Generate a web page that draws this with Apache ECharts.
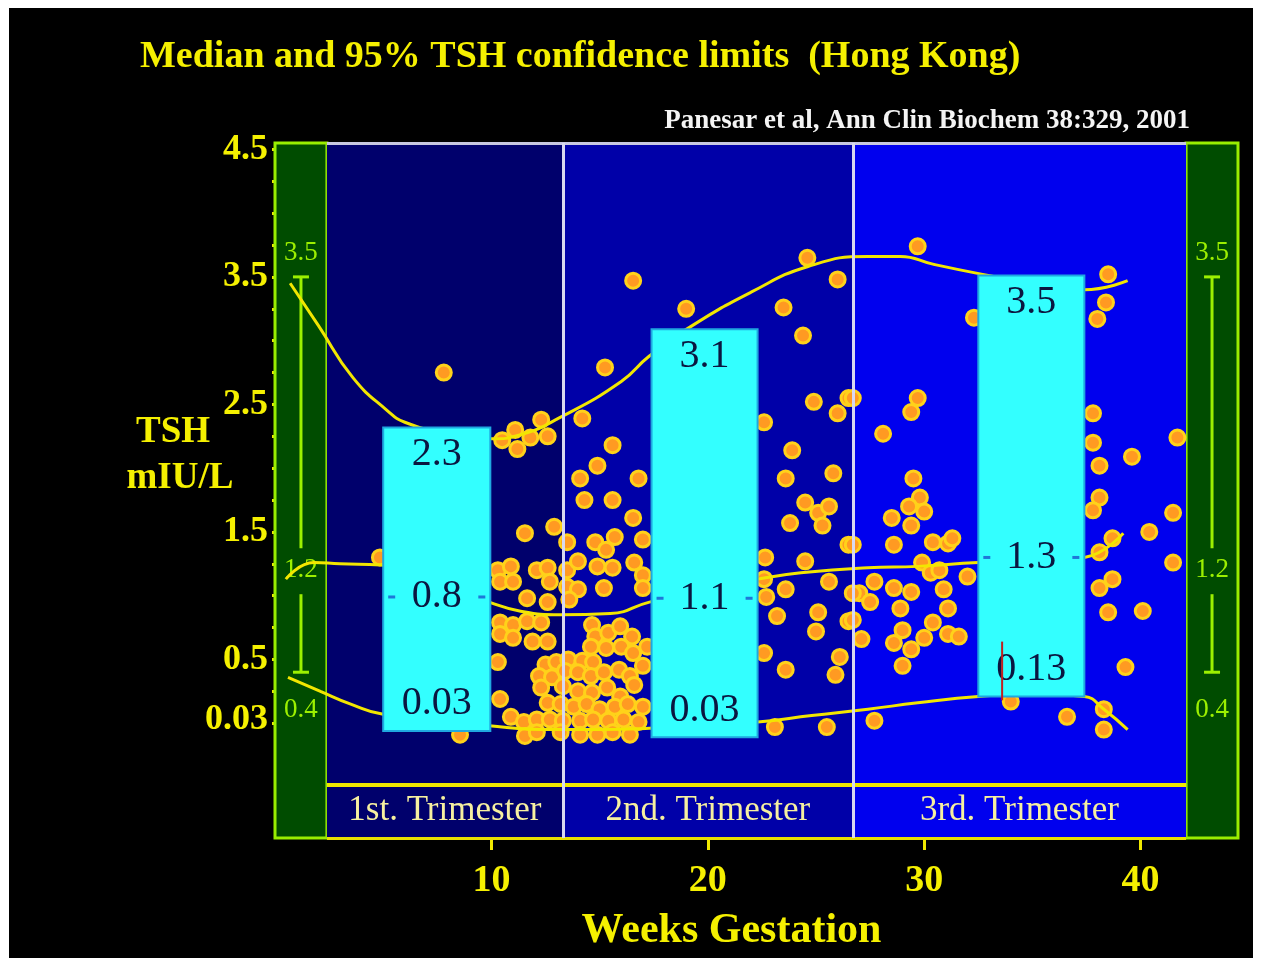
<!DOCTYPE html>
<html>
<head>
<meta charset="utf-8">
<script src="https://cdn.jsdelivr.net/npm/echarts@6/dist/echarts.min.js"></script>
<style>
html, body { margin: 0; background: #fff; }
#chart { position: absolute; left: 9px; top: 8px; width: 1244px; height: 950px; background: #000; }
</style>
</head>
<body>
<div id="chart"></div>
<script>
const trimesters = ['1st. Trimester', '2nd. Trimester', '3rd. Trimester']
const trimesterBounds = [2.4, 13.3, 26.7, 42.1]
const xTicks = [10, 20, 30, 40]
const yTicks = [0.03, 0.5, 1.5, 2.5, 3.5, 4.5]

// fitted curves (weeks, TSH)
const upper = [[0.7, 3.45], [2, 3.12], [3.6, 2.71], [5.2, 2.45], [6, 2.36], [8, 2.27], [10, 2.23], [11.3, 2.26], [13.2, 2.4],
  [16, 2.68], [17.3, 2.88], [19.3, 3.12], [22, 3.38], [24.6, 3.58], [27.4, 3.66], [28.9, 3.66], [30.4, 3.6], [32.7, 3.52],
  [35, 3.45], [37.4, 3.4], [39.4, 3.47]]
const median = [[0.5, 1.13], [1.8, 1.26], [3, 1.25], [4.9, 1.24], [9.9, 0.95], [11.3, 0.88], [13.2, 0.85], [15.5, 0.86],
  [17.3, 0.95], [20, 1.05], [22.3, 1.13], [24.3, 1.18], [27.4, 1.22], [29.7, 1.23], [32.5, 1.26], [35, 1.27], [37.4, 1.3], [39.2, 1.49]]
const lower = [[0.6, 0.36], [2.1, 0.25], [3.5, 0.15], [5, 0.07], [9.9, -0.02], [12.9, -0.05], [15, -0.05], [17.3, -0.04],
  [22.3, 0.01], [24.8, 0.06], [27.4, 0.11], [29.7, 0.16], [32.5, 0.21], [35, 0.23], [37.4, 0.21], [38.3, 0.11], [39.4, -0.05]]

// individual results
const dots = [
  [7.8, 2.75], [10.5, 2.22], [11.1, 2.3], [11.2, 2.15], [11.8, 2.24], [12.3, 2.38], [12.6, 2.25], [4.85, 1.3], [8.55, -0.09],
  [11.55, 1.49], [12.9, 1.54], [13.5, 1.42], [14.8, 1.42], [15.3, 1.36], [15.7, 1.46], [17.0, 1.44],
  [10.3, 1.2], [10.9, 1.23], [10.4, 1.11], [11.0, 1.11], [12.1, 1.2], [12.6, 1.22], [12.7, 1.11], [13.5, 1.2], [14.0, 1.27],
  [13.5, 1.07], [14.0, 1.05], [13.6, 0.97], [14.9, 1.23], [15.6, 1.22], [15.2, 1.06], [16.6, 1.26], [17.0, 1.16], [17.0, 1.06],
  [11.65, 0.98], [12.6, 0.95], [10.4, 0.79], [11.0, 0.77], [11.65, 0.8], [12.3, 0.79], [10.4, 0.7], [11.0, 0.67], [11.9, 0.64],
  [12.6, 0.64], [10.3, 0.48],
  [14.65, 0.77], [14.8, 0.68], [15.4, 0.71], [14.6, 0.6], [15.3, 0.59], [15.95, 0.76], [16.5, 0.68], [16.0, 0.6], [16.55, 0.55], [17.2, 0.6],
  [12.5, 0.46], [13.0, 0.48], [13.55, 0.5], [14.2, 0.49], [14.7, 0.48],
  [12.2, 0.37], [12.8, 0.36], [13.4, 0.41], [14.0, 0.4], [14.6, 0.37], [15.2, 0.4], [15.9, 0.42], [16.4, 0.37], [17.0, 0.45],
  [12.3, 0.28], [13.3, 0.29], [14.0, 0.25], [14.65, 0.24], [15.35, 0.28], [15.95, 0.21], [16.6, 0.3],
  [10.4, 0.19], [12.6, 0.16], [13.2, 0.15], [13.8, 0.13], [14.4, 0.15], [15.0, 0.11], [15.7, 0.13], [16.3, 0.15], [17.0, 0.13],
  [10.9, 0.05], [11.5, 0.01], [12.1, 0.03], [12.7, 0.03], [13.3, 0.02], [14.1, 0.02], [14.7, 0.03], [15.4, 0.02], [16.1, 0.03], [16.8, 0.01],
  [11.55, -0.1], [12.1, -0.07], [13.2, -0.07], [14.1, -0.09], [14.9, -0.09], [15.6, -0.07], [16.4, -0.09],
  [16.55, 3.47], [24.6, 3.65], [26.0, 3.48], [19.0, 3.25], [23.5, 3.26], [24.4, 3.04], [15.25, 2.79], [26.5, 2.55], [24.9, 2.52],
  [26.0, 2.43], [22.6, 2.36], [15.6, 2.18], [14.9, 2.02], [14.2, 2.39], [23.9, 2.14], [23.6, 1.92], [25.8, 1.96], [16.8, 1.92],
  [14.1, 1.92], [15.6, 1.75], [14.3, 1.75], [16.55, 1.61], [24.5, 1.73], [25.1, 1.65], [25.6, 1.7], [23.8, 1.57], [25.3, 1.55],
  [26.5, 1.4], [22.65, 1.3], [24.5, 1.27], [22.6, 1.13], [23.6, 1.05], [25.6, 1.11], [27.0, 1.02], [22.7, 0.99], [23.2, 0.84],
  [25.1, 0.87], [25.0, 0.72], [26.5, 0.8], [22.6, 0.55], [23.6, 0.42], [26.1, 0.52], [25.9, 0.38], [23.1, -0.03], [25.5, -0.03],
  [29.7, 3.74], [32.3, 3.18], [26.7, 2.55], [29.7, 2.55], [29.4, 2.44], [28.1, 2.27], [29.5, 1.92], [29.8, 1.77], [29.3, 1.7],
  [30.0, 1.66], [28.5, 1.61], [29.4, 1.55], [26.7, 1.4], [28.6, 1.4], [30.4, 1.42], [31.1, 1.41], [31.3, 1.45], [29.9, 1.26],
  [30.3, 1.18], [30.7, 1.2], [32.0, 1.15], [27.7, 1.11], [26.7, 1.02], [28.6, 1.06], [29.4, 1.03], [27.5, 0.95], [28.9, 0.9],
  [30.9, 1.05], [31.1, 0.9], [26.7, 0.81], [30.4, 0.79], [27.1, 0.66], [28.6, 0.63], [29.0, 0.73], [30.0, 0.67], [31.1, 0.7],
  [31.6, 0.68], [29.4, 0.58], [29.0, 0.45], [27.7, 0.02], [34.0, 0.17], [36.6, 0.05],
  [38.5, 3.52], [38.4, 3.3], [38.0, 3.17], [37.8, 2.43], [37.8, 2.2], [38.1, 2.02], [39.6, 2.09], [41.7, 2.24], [38.1, 1.77],
  [37.8, 1.67], [41.5, 1.65], [40.4, 1.5], [38.7, 1.45], [38.1, 1.34], [41.5, 1.26], [38.7, 1.13], [38.1, 1.06], [38.5, 0.87],
  [40.1, 0.88], [39.3, 0.44], [38.3, 0.11], [38.3, -0.05]
]

// trimester reference boxes
const boxStart = [5.0, 17.4, 32.5]
const boxEnd = [9.95, 22.3, 37.4]
const boxLow = [-0.06, -0.11, 0.21]
const boxHigh = [2.32, 3.09, 3.51]
const boxMedian = [0.99, 0.98, 1.3]
const boxTopText = ['2.3', '3.1', '3.5']
const boxMidText = ['0.8', '1.1', '1.3']
const boxLowText = ['0.03', '0.03', '0.13']

// non-pregnant reference range (side panels)
const refX = [1.2, 43.3]
const refValues = [3.5, 1.2, 0.4]
const refText = ['3.5', '1.2', '0.4']

const redMark = [[33.6, 0.18], [33.6, 0.64]]

const serif = '"Liberation Serif", "Times New Roman", serif'
const yMin = -0.9, yMax = 4.55, stripTop = -0.48
const bandColors = ['#00006c', '#0000a8', '#0000ee']

const minorTicks = []
for (let v = 0; v <= 4.5; v += 0.25) minorTicks.push(v)

function renderBox(params, api) {
  const i = params.dataIndex
  const tl = api.coord([api.value(0), api.value(3)])
  const br = api.coord([api.value(1), api.value(2)])
  const my = api.coord([api.value(0), api.value(4)])[1]
  const cx = (tl[0] + br[0]) / 2
  const txt = (t, y) => ({
    type: 'text', x: cx, y: y,
    style: { text: t, fill: '#0b1640', font: '40px ' + serif, textAlign: 'center', textVerticalAlign: 'middle' }
  })
  const dash = (x1, x2) => ({ type: 'line', shape: { x1: x1, y1: my, x2: x2, y2: my }, style: { stroke: '#1e78d8', lineWidth: 3 } })
  return {
    type: 'group',
    children: [
      { type: 'rect', shape: { x: tl[0], y: tl[1], width: br[0] - tl[0], height: br[1] - tl[1] },
        style: { fill: '#33ffff', stroke: '#1fa8e0', lineWidth: 2 } },
      txt(boxTopText[i], tl[1] + 27),
      txt(boxMidText[i], my),
      txt(boxLowText[i], br[1] - 27),
      dash(tl[0] + 5, tl[0] + 12),
      dash(br[0] - 12, br[0] - 5)
    ]
  }
}

function renderRef(params, api) {
  const x = api.coord([api.value(0), refValues[0]])[0]
  const yt = api.coord([0, refValues[0]])[1]
  const ym = api.coord([0, refValues[1]])[1]
  const yl = api.coord([0, refValues[2]])[1]
  const c = '#9cf000'
  const ln = (x1, y1, x2, y2) => ({ type: 'line', shape: { x1: x1, y1: y1, x2: x2, y2: y2 }, style: { stroke: c, lineWidth: 3 } })
  const tx = (t, y) => ({ type: 'text', x: x, y: y,
    style: { text: t, fill: c, font: '27px ' + serif, textAlign: 'center', textVerticalAlign: 'middle' } })
  return {
    type: 'group',
    children: [
      ln(x - 8, yt, x + 8, yt), ln(x, yt, x, ym - 22), ln(x, ym + 24, x, yl), ln(x - 8, yl, x + 8, yl),
      tx(refText[0], yt - 24), tx(refText[1], ym), tx(refText[2], yl + 38)
    ]
  }
}

const areas = [
  [{ xAxis: 0, yAxis: yMin, itemStyle: { color: '#004c00', borderColor: '#99ee00', borderWidth: 3 } }, { xAxis: trimesterBounds[0], yAxis: yMax }],
  [{ xAxis: trimesterBounds[3], yAxis: yMin, itemStyle: { color: '#004c00', borderColor: '#99ee00', borderWidth: 3 } }, { xAxis: 44.5, yAxis: yMax }]
]
trimesters.forEach((t, i) => {
  areas.push([
    { xAxis: trimesterBounds[i], yAxis: yMin, itemStyle: { color: bandColors[i] },
      label: { show: true, position: 'insideBottom', distance: 10, formatter: t, color: '#f6f0a0', fontSize: 35, fontFamily: serif } },
    { xAxis: trimesterBounds[i + 1], yAxis: yMax }
  ])
})

const lines = [
  [{ coord: [trimesterBounds[0], stripTop], lineStyle: { color: '#f0e800', width: 4, type: 'solid' } }, { coord: [trimesterBounds[3], stripTop] }],
  [{ coord: [trimesterBounds[0], yMax], lineStyle: { color: '#c8c8e0', width: 3, type: 'solid' } }, { coord: [trimesterBounds[3], yMax] }],
  [{ coord: [trimesterBounds[0], yMin], lineStyle: { color: '#e8e000', width: 3, type: 'solid' } }, { coord: [trimesterBounds[3], yMin] }],
  [{ coord: [trimesterBounds[1], yMin], lineStyle: { color: '#d8d8f0', width: 3, type: 'solid' } }, { coord: [trimesterBounds[1], yMax] }],
  [{ coord: [trimesterBounds[2], yMin], lineStyle: { color: '#d8d8f0', width: 3, type: 'solid' } }, { coord: [trimesterBounds[2], yMax] }]
]

const curveStyle = { color: '#f2e600', width: 3 }

const chart = echarts.init(document.getElementById('chart'))
chart.setOption({
  animation: false,
  backgroundColor: '#000',
  title: [
    { text: 'Median and 95% TSH confidence limits  (Hong Kong)', left: 126, top: 25,
      textStyle: { color: '#f5f000', fontSize: 38, fontWeight: 'bold', fontFamily: serif } },
    { text: 'Panesar et al, Ann Clin Biochem 38:329, 2001', right: 58, top: 95,
      textStyle: { color: '#f4f4f4', fontSize: 27, fontWeight: 'bold', fontFamily: serif } }
  ],
  graphic: [
    { type: 'text', x: 164, y: 424, style: { text: 'TSH', fill: '#f5f000', font: 'bold 37px ' + serif, textAlign: 'center', textVerticalAlign: 'middle' } },
    { type: 'text', x: 171, y: 470, style: { text: 'mIU/L', fill: '#f5f000', font: 'bold 37px ' + serif, textAlign: 'center', textVerticalAlign: 'middle' } }
  ],
  grid: { left: 266, right: 15, top: 135, bottom: 120, outerBoundsMode: 'none' },
  xAxis: {
    type: 'value', min: 0, max: 44.5,
    splitLine: { show: false },
    axisLine: { show: false, onZero: false },
    axisTick: { show: true, customValues: xTicks, length: 12, lineStyle: { color: '#f0e800', width: 3 } },
    axisLabel: { customValues: xTicks, color: '#f5f000', fontSize: 38, fontWeight: 'bold', fontFamily: serif, margin: 24 },
    name: 'Weeks Gestation', nameLocation: 'middle', nameGap: 72,
    nameTextStyle: { color: '#f5f000', fontSize: 42, fontWeight: 'bold', fontFamily: serif, padding: [0, 50, 0, 0] }
  },
  yAxis: {
    type: 'value', min: yMin, max: yMax,
    splitLine: { show: false },
    axisLine: { show: false, onZero: false },
    axisTick: { show: true, customValues: minorTicks, length: 3, lineStyle: { color: '#f0e800', width: 3 } },
    axisLabel: { customValues: yTicks, color: '#f5f000', fontSize: 36, fontWeight: 'bold', fontFamily: serif, margin: 7,
      formatter: v => String(v) }
  },
  series: [
    { name: 'bg', type: 'line', data: [], z: 1, silent: true,
      markArea: { silent: true, data: areas },
      markLine: { silent: true, symbol: ['none', 'none'], label: { show: false }, data: lines } },
    { name: 'TSH', type: 'scatter', data: dots, z: 3, symbolSize: 15,
      itemStyle: { color: '#ff9a22', borderColor: '#ffd21a', borderWidth: 3, opacity: 1 } },
    { name: 'upper', type: 'line', data: upper, smooth: true, showSymbol: false, z: 4, lineStyle: curveStyle },
    { name: 'median', type: 'line', data: median, smooth: true, showSymbol: false, z: 4, lineStyle: curveStyle },
    { name: 'lower', type: 'line', data: lower, smooth: true, showSymbol: false, z: 4, lineStyle: curveStyle },
    { name: 'ref', type: 'custom', renderItem: renderRef, data: refX.map(x => [x]), z: 4, silent: true },
    { name: 'boxes', type: 'custom', renderItem: renderBox, z: 5, silent: true,
      encode: { x: [0, 1], y: [2, 3, 4] },
      data: boxStart.map((s, i) => [s, boxEnd[i], boxLow[i], boxHigh[i], boxMedian[i]]) },
    { name: 'mark', type: 'line', data: redMark, showSymbol: false, z: 6, lineStyle: { color: '#c02020', width: 2 } }
  ]
})
</script>
</body>
</html>
